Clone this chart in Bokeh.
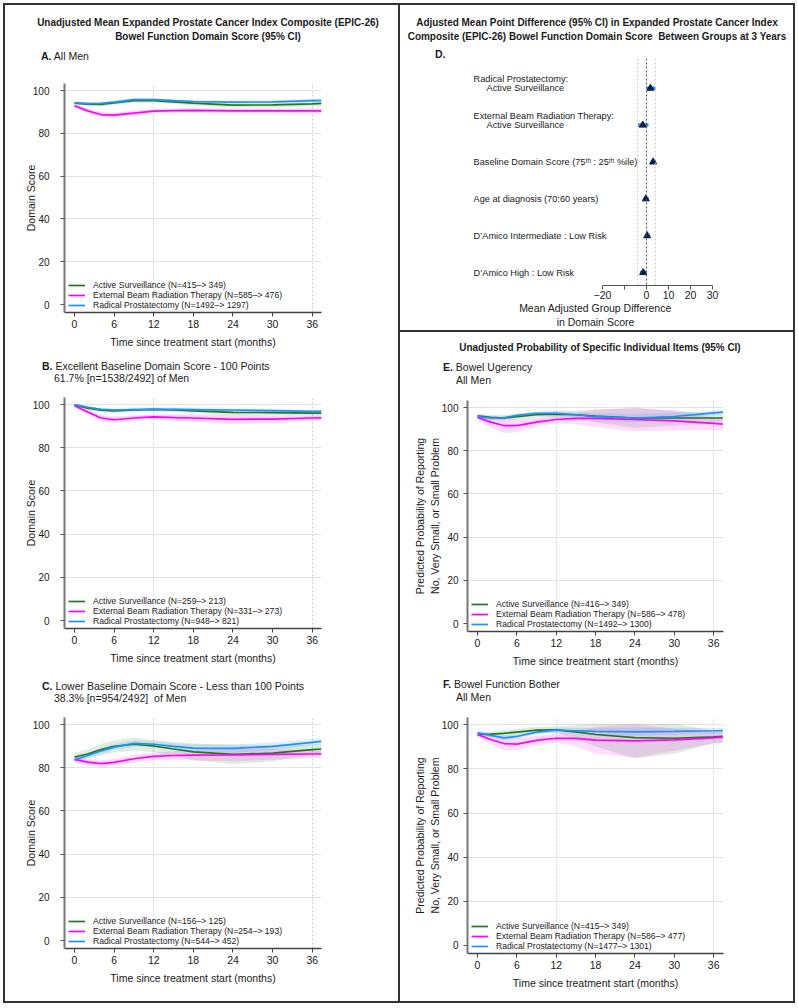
import numpy as np
from bokeh.plotting import figure
from bokeh.models import Range1d, FixedTicker, Span, ColumnDataSource, Div
from bokeh.layouts import column, row
from bokeh.embed import file_html
from bokeh.resources import INLINE
from bokeh.core.properties import value

# ---------------- data ----------------
months = [0, 2, 4, 6, 9, 12, 15, 18, 24, 30, 36, 37.4]
group_names = ["Active Surveillance", "External Beam Radiation Therapy", "Radical Prostatectomy"]

# Panel A: all men, domain score
a_as = [94.1, 93.7, 93.5, 94.2, 95.3, 95.3, 94.7, 94.1, 93.2, 93.3, 93.8, 94.0]
a_eb = [92.9, 90.5, 88.8, 88.5, 89.5, 90.4, 90.6, 90.7, 90.5, 90.5, 90.5, 90.5]
a_rp = [94.3, 93.9, 94.0, 94.6, 95.8, 95.8, 95.3, 94.9, 94.6, 94.7, 95.3, 95.4]
a_as_hw = [0.8, 0.8, 0.9, 0.9, 1.0, 1.0, 1.0, 1.1, 1.2, 1.2, 1.2, 1.3]
a_eb_hw = [0.8, 1.0, 1.2, 1.2, 1.1, 1.0, 1.0, 1.0, 1.1, 1.1, 1.2, 1.3]
a_rp_hw = [0.5, 0.5, 0.5, 0.5, 0.5, 0.5, 0.6, 0.6, 0.6, 0.6, 0.7, 0.7]
a_n = ["(N=415–> 349)", "(N=585–> 476)", "(N=1492–> 1297)"]

# Panel B: excellent baseline
b_as = [99.8, 98.4, 97.4, 97.1, 97.5, 97.8, 97.5, 97.1, 96.4, 96.3, 96.1, 96.1]
b_eb = [99.5, 96.6, 93.8, 93.0, 93.8, 94.3, 94.0, 93.8, 93.2, 93.3, 93.8, 93.9]
b_rp = [100.0, 98.8, 97.8, 97.5, 97.7, 97.8, 97.8, 97.7, 97.5, 97.2, 96.9, 96.9]
b_as_hw = [0.6, 0.8, 0.9, 0.9, 0.9, 0.9, 1.0, 1.0, 1.1, 1.1, 1.1, 1.1]
b_eb_hw = [0.6, 1.2, 1.5, 1.5, 1.2, 1.2, 1.5, 1.8, 2.2, 1.8, 1.2, 1.2]
b_rp_hw = [0.3, 0.4, 0.5, 0.5, 0.5, 0.5, 0.5, 0.5, 0.6, 0.6, 0.6, 0.6]
b_n = ["(N=259–> 213)", "(N=331–> 273)", "(N=948–> 821)"]

# Panel C: lower baseline
c_as = [85.0, 86.4, 88.4, 89.9, 90.9, 90.1, 88.7, 87.4, 86.2, 86.8, 88.4, 88.7]
c_eb = [83.9, 82.6, 81.9, 82.5, 84.2, 85.3, 85.7, 85.9, 86.0, 86.2, 86.4, 86.4]
c_rp = [83.7, 85.7, 87.8, 89.6, 91.3, 90.9, 89.9, 89.1, 89.0, 89.9, 91.8, 92.2]
c_as_hw = [1.8, 2.2, 2.6, 2.8, 3.0, 2.8, 3.2, 3.8, 4.5, 3.8, 2.5, 2.5]
c_eb_hw = [1.5, 1.5, 1.6, 1.6, 1.8, 1.8, 2.0, 2.5, 3.0, 2.5, 2.0, 2.0]
c_rp_hw = [1.0, 1.2, 1.3, 1.4, 1.4, 1.4, 1.5, 1.8, 2.0, 1.8, 1.5, 1.5]
c_n = ["(N=156–> 125)", "(N=254–> 193)", "(N=544–> 452)"]

# Panel E: bowel urgency
e_as = [96.2, 95.5, 95.2, 95.8, 96.7, 97.0, 96.7, 96.1, 95.2, 95.2, 95.2, 95.2]
e_eb = [95.5, 93.3, 91.7, 91.7, 93.3, 94.5, 95.0, 95.0, 94.5, 93.9, 92.7, 92.4]
e_rp = [95.8, 95.2, 95.3, 96.4, 97.4, 97.4, 96.7, 95.8, 95.2, 95.9, 97.6, 97.9]
e_as_hw = [1.0, 1.2, 1.3, 1.2, 1.2, 1.4, 2.0, 3.0, 4.5, 3.5, 2.0, 2.0]
e_eb_hw = [1.2, 2.5, 3.5, 3.0, 2.0, 1.8, 2.5, 4.0, 5.5, 4.5, 3.0, 3.0]
e_rp_hw = [0.8, 0.8, 0.8, 0.8, 0.8, 0.9, 1.2, 1.5, 2.0, 1.6, 1.0, 1.0]
e_n = ["(N=416–> 349)", "(N=586–> 478)", "(N=1492–> 1300)"]

# Panel F: bowel function bother
f_as = [95.6, 95.8, 96.1, 96.7, 97.6, 97.7, 96.8, 95.6, 94.2, 93.9, 94.5, 94.7]
f_eb = [95.6, 93.3, 91.5, 91.2, 92.9, 93.9, 93.8, 93.0, 92.7, 93.2, 94.1, 94.4]
f_rp = [96.4, 95.2, 94.1, 94.7, 96.7, 97.6, 97.3, 97.0, 96.8, 97.0, 97.3, 97.4]
f_as_hw = [1.0, 1.2, 1.5, 1.5, 1.5, 1.5, 3.0, 5.5, 9.5, 7.0, 3.0, 3.0]
f_eb_hw = [1.2, 2.0, 3.0, 2.8, 2.0, 2.0, 3.5, 6.0, 7.5, 5.0, 2.5, 2.5]
f_rp_hw = [0.8, 1.0, 1.2, 1.0, 1.0, 1.0, 1.2, 1.5, 2.0, 1.5, 1.2, 1.2]
f_n = ["(N=415–> 349)", "(N=586–> 477)", "(N=1477–> 1301)"]

# Panel D: forest plot
d_line1 = ["Radical Prostatectomy:", "External Beam Radiation Therapy:",
           "Baseline Domain Score (75ᵗʰ : 25ᵗʰ %ile)", "Age at diagnosis (70:60 years)",
           "D’Amico Intermediate : Low Risk", "D’Amico High : Low Risk"]
d_line2 = ["Active Surveillance", "Active Surveillance", "", "", "", ""]
d_est = [1.8, -1.7, 3.0, -0.3, 0.3, -1.5]
d_lo = [0.1, -3.8, 2.0, -1.1, -0.5, -3.0]
d_hi = [4.1, 0.9, 4.3, 0.9, 1.3, 0.0]
d_rows = [1, 2, 3, 4, 5, 6]
d_reflines = [-4, 0, 4]
d_ticks = [-20, -10, 0, 10, 20, 30]
time_ticks = [0, 6, 12, 18, 24, 30, 36]
score_ticks = [0, 20, 40, 60, 80, 100]

# ---------------- style ----------------
FONT = "Liberation Sans"
GREEN = "#1f7a1f"
MAGENTA = "#ff00ff"
BLUE = "#1e90ff"
TXT = "#1a1a1a"
BORDER = "#333333"
COLORS = [GREEN, MAGENTA, BLUE]

SUB_CSS = "font-family:'Liberation Sans',sans-serif;font-size:10.5px;white-space:nowrap;"


def title_block(center, pad_top, html):
    w = 440
    return (f"<div style=\"width:{w}px;margin-left:{center - w // 2}px;padding-top:{pad_top}px;"
            "font-family:'Liberation Sans',sans-serif;font-weight:bold;font-size:11.5px;"
            "line-height:14px;text-align:center;white-space:nowrap;"
            f"transform:scaleX(0.865);transform-origin:{w // 2}px 0;\">{html}</div>")


def header(width, height, html):
    return Div(text=f"<div style=\"color:{TXT};\">{html}</div>", width=width, height=height,
               margin=0, styles={"overflow": "visible"})


def style_axes(p):
    for ax in (p.xaxis[0], p.yaxis[0]):
        ax.major_label_text_font = FONT
        ax.major_label_text_font_size = "10.5px"
        ax.major_label_text_color = TXT
        ax.axis_label_text_font = FONT
        ax.axis_label_text_font_size = "10.5px"
        ax.axis_label_text_font_style = "normal"
        ax.axis_label_text_color = TXT
        ax.minor_tick_line_color = None
        ax.major_tick_in = 0
        ax.major_tick_out = 4
    p.outline_line_color = None


def ts_panel(width, height, left, right, top, bottom, xr, series, hws, ns, ylabel, lab_standoff,
             axlab_standoff):
    p = figure(width=width, height=height, x_range=Range1d(*xr), y_range=Range1d(-3.7, 103.3),
               output_backend="svg", toolbar_location=None,
               min_border_left=left, min_border_right=right,
               min_border_top=top, min_border_bottom=bottom)
    style_axes(p)
    p.yaxis.major_label_text_font_size = "10px"
    p.xaxis.ticker = FixedTicker(ticks=time_ticks)
    p.yaxis.ticker = FixedTicker(ticks=score_ticks)
    p.xaxis.axis_label = "Time since treatment start (months)"
    p.yaxis.axis_label = ylabel
    p.xaxis.axis_line_color = "#444444"
    p.xaxis.axis_line_width = 1.3
    p.xaxis.major_tick_line_color = "#444444"
    p.yaxis.axis_line_color = "#777777"
    p.yaxis.axis_line_width = 2
    p.yaxis.major_tick_line_color = "#555555"
    p.xaxis.major_label_standoff = 3
    p.xaxis.axis_label_standoff = 5
    p.yaxis.major_label_standoff = lab_standoff
    p.yaxis.axis_label_standoff = axlab_standoff
    p.ygrid.ticker = FixedTicker(ticks=[20, 40, 60, 80, 100])
    p.ygrid.grid_line_color = "#e3e3e3"
    p.xgrid.ticker = FixedTicker(ticks=[12, 36])
    p.xgrid.grid_line_color = "#cfcfcf"
    p.xgrid.grid_line_dash = "2 2"
    for mean, hw, col in zip(series, hws, COLORS):
        m = np.array(mean)
        h = np.array(hw)
        p.varea(x=months, y1=m - h, y2=np.minimum(m + h, 100.5), fill_color=col, fill_alpha=0.14)
    for mean, col, name, n in zip(series, COLORS, group_names, ns):
        p.line(months, mean, line_color=col, line_width=1.7, legend_label=f"{name} {n}")
    lg = p.legend[0]
    lg.location = (4, 2)
    lg.background_fill_alpha = 0
    lg.border_line_color = None
    lg.label_text_font = FONT
    lg.label_text_font_size = "8.6px"
    lg.label_text_color = TXT
    lg.glyph_width = 17
    lg.glyph_height = 10
    lg.label_height = 10
    lg.spacing = 0
    lg.padding = 4
    lg.margin = 0
    lg.label_standoff = 8
    return p


COLW = 393

# ---------------- left column ----------------
hA = header(COLW, 71,
            title_block(203, 10, "Unadjusted Mean Expanded Prostate Cancer Index Composite (EPIC-26)<br>"
                                 "Bowel Function Domain Score (95% CI)")
            + f"<div style=\"{SUB_CSS}line-height:13px;margin-top:7px;padding-left:36px;\">"
              "<b>A.</b> All Men</div>")
pA = ts_panel(COLW, 274, 59, 77, 7, 37, (-1.51, 37.4),
              [a_as, a_eb, a_rp], [a_as_hw, a_eb_hw, a_rp_hw], a_n, "Domain Score", 11, -7)

hB = header(COLW, 40,
            f"<div style=\"{SUB_CSS}line-height:12px;padding-top:10px;padding-left:37px;\">"
            "<b>B.</b> Excellent Baseline Domain Score - 100 Points</div>"
            f"<div style=\"{SUB_CSS}line-height:12px;padding-left:49px;\">61.7% [n=1538/2492] of Men</div>")
pB = ts_panel(COLW, 278, 59, 77, 7, 40, (-1.51, 37.4),
              [b_as, b_eb, b_rp], [b_as_hw, b_eb_hw, b_rp_hw], b_n, "Domain Score", 11, -7)

hC = header(COLW, 42,
            f"<div style=\"{SUB_CSS}line-height:12px;padding-top:12px;padding-left:37px;\">"
            "<b>C.</b> Lower Baseline Domain Score - Less than 100 Points</div>"
            f"<div style=\"{SUB_CSS}line-height:12px;padding-left:49px;\">38.3% [n=954/2492]&nbsp; of Men</div>")
pC = ts_panel(COLW, 291, 59, 77, 7, 53, (-1.51, 37.4),
              [c_as, c_eb, c_rp], [c_as_hw, c_eb_hw, c_rp_hw], c_n, "Domain Score", 11, -7)

# ---------------- panel D ----------------
hD = header(COLW, 53,
            title_block(197, 10, "Adjusted Mean Point Difference (95% CI) in Expanded Prostate Cancer Index<br>"
                                 "Composite (EPIC-26) Bowel Function Domain Score&nbsp; Between Groups at 3 Years")
            + f"<div style=\"{SUB_CSS}line-height:10px;margin-top:6px;padding-left:35px;\"><b>D.</b></div>")
pD = figure(width=COLW, height=272, x_range=Range1d(-81.36, 35.0), y_range=Range1d(6.35, 0.194),
            output_backend="svg", toolbar_location=None,
            min_border_left=67, min_border_right=70, min_border_top=0, min_border_bottom=43)
style_axes(pD)
pD.yaxis.visible = False
pD.grid.visible = False
pD.xaxis.bounds = (-20, 30)
pD.xaxis.ticker = FixedTicker(ticks=d_ticks)
pD.xaxis.major_label_overrides = {-20: "−20", -10: ""}
pD.xaxis.axis_line_color = "#555555"
pD.xaxis.major_tick_line_color = "#555555"
pD.xaxis.major_label_standoff = 1
pD.xaxis.axis_label_standoff = 0
pD.xaxis.axis_label = "Mean Adjusted Group Difference\nin Domain Score"
for v in d_reflines:
    pD.add_layout(Span(location=v, dimension="height",
                       line_color="#555555" if v == 0 else "#c8c8c8",
                       line_dash="2 2", line_width=1))
src = ColumnDataSource(dict(lo=d_lo, hi=d_hi, est=d_est, row=d_rows, l1=d_line1, l2=d_line2,
                            lab_x=[-78.6] * len(d_rows),
                            yoff=[-9 if s else 0 for s in d_line2]))
pD.segment(x0="lo", y0="row", x1="hi", y1="row", source=src, line_color=BLUE, line_width=3.5)
pD.scatter(x="est", y="row", source=src, marker="triangle", size=7, fill_color="#0b1f45",
           line_color="#0b1f45")
pD.text(x="lab_x", y="row", text="l1", y_offset="yoff", source=src, text_font=value(FONT),
        text_font_size=value("9.2px"), text_align="left", text_baseline="middle", text_color=TXT)
pD.text(x="lab_x", y="row", text="l2", x_offset=13, source=src, text_font=value(FONT),
        text_font_size=value("9.2px"), text_align="left", text_baseline="middle", text_color=TXT)

# ---------------- panels E, F ----------------
ylab_prob = "Predicted Probability of Reporting\nNo, Very Small, or Small Problem"
hE = header(COLW, 61,
            title_block(200, 8, "Unadjusted Probability of Specific Individual Items (95% CI)")
            + f"<div style=\"{SUB_CSS}line-height:13px;margin-top:7px;padding-left:43px;\">"
              "<b>E.</b> Bowel Ugerency</div>"
              f"<div style=\"{SUB_CSS}line-height:13px;padding-left:56px;\">All Men</div>")
pE = ts_panel(COLW, 276, 67, 70, 7, 34, (-1.53, 37.5),
              [e_as, e_eb, e_rp], [e_as_hw, e_eb_hw, e_rp_hw], e_n, ylab_prob, 5, -2)

hF = header(COLW, 41,
            f"<div style=\"{SUB_CSS}line-height:13px;padding-top:9px;padding-left:43px;\">"
            "<b>F.</b> Bowel Function Bother</div>"
            f"<div style=\"{SUB_CSS}line-height:13px;padding-left:56px;\">All Men</div>")
pF = ts_panel(COLW, 291, 67, 70, 7, 48, (-1.53, 37.5),
              [f_as, f_eb, f_rp], [f_as_hw, f_eb_hw, f_rp_hw], f_n, ylab_prob, 5, -2)


# ---------------- borders and assembly ----------------
def rule(w, h, color=BORDER):
    return Div(text="", width=w, height=h, margin=0, styles={"background-color": color})


CONTENT_H = 996
left_col = column(hA, pA, hB, pB, hC, pC, spacing=0)
right_col = column(hD, pD, rule(COLW, 2), hE, pE, hF, pF, spacing=0)
main = row(rule(3, CONTENT_H, "#ffffff"), rule(2, CONTENT_H), left_col, rule(2, CONTENT_H),
           right_col, rule(2, CONTENT_H), spacing=0)
TOTAL_W = 3 + 2 + COLW + 2 + COLW + 2
layout = column(rule(TOTAL_W, 3, "#ffffff"),
                row(rule(3, 2, "#ffffff"), rule(TOTAL_W - 3, 2), spacing=0),
                main,
                row(rule(3, 2, "#ffffff"), rule(TOTAL_W - 3, 2), spacing=0),
                spacing=0)

open("out.html", "w").write(file_html(layout, INLINE))
